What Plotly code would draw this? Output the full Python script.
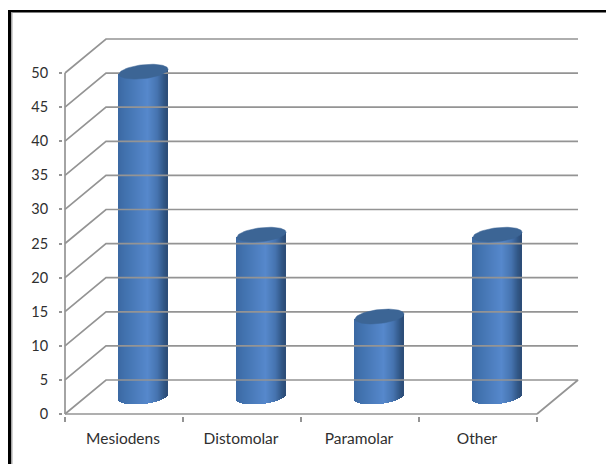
import numpy as np
import plotly.graph_objects as go

categories = ["Mesiodens", "Distomolar", "Paramolar", "Other"]
values = [47.7, 23.8, 11.8, 23.8]
y_ticks = list(range(0, 55, 5))

GRID = "#949494"
TEXT = "#2f2f2f"
W, H = 606, 464
L, R, T, B = 65, 537, 73, 414  # pixel box of the front axes
px_x = (R - L) / 4
px_y = (B - T) / 50
depth_x = 41 / px_x
depth_y = 34 / px_y
half_w = 24.5 / px_x
ell_b = 7.0 / px_y
ell_s = 2.5 / px_y
N = 49
nudge = 1 / px_x

# axis ranges pad the plot box by a couple of pixels so edge lines are not clipped
pad_px = 2
x_min, x_max = -pad_px / px_x, 4 + depth_x + pad_px / px_x
y_min, y_max = -pad_px / px_y, 50 + depth_y + pad_px / px_y
box_l = L - pad_px
box_r = R + 41 + pad_px
box_b = B + pad_px
box_t = T - 34 - pad_px

stops = [(0.0, (58, 104, 162)), (0.12, (64, 112, 172)), (0.6, (86, 136, 204)),
         (0.8, (70, 116, 176)), (0.93, (50, 88, 136)), (1.0, (44, 76, 118))]


def shade(t):
    pos = [s[0] for s in stops]
    rgb = [np.interp(t, pos, [s[1][i] for s in stops]) for i in range(3)]
    return "rgb(%d,%d,%d)" % tuple(int(round(c)) for c in rgb)


def add_line(fig, xs, ys):
    fig.add_trace(go.Scatter(x=xs, y=ys, mode="lines", hoverinfo="skip",
                             line=dict(color=GRID, width=1.7), showlegend=False))


fig = go.Figure()

# floor, back wall grid and the two front axis lines
for v in y_ticks:
    if v == 0:
        add_line(fig, [0, depth_x, 4 + depth_x, 4], [0, depth_y, depth_y, 0])
    else:
        add_line(fig, [0, depth_x, 4 + depth_x], [v, v + depth_y, v + depth_y])
add_line(fig, [0, 4], [0, 0])
add_line(fig, [0, 0], [0, 50])

# cylinders
u = (np.arange(N) + 0.5) / N * 2 - 1
step = 2 * half_w / N
for i, val in enumerate(values):
    cx = i + 0.5 + depth_x / 2 - nudge
    low = depth_y / 2 - ell_b * np.sqrt(1 - u ** 2) + ell_s * u
    top = depth_y / 2 + val + ell_s * u
    fig.add_trace(go.Bar(x=cx + u * half_w, y=top - low, base=low, width=step * 1.25,
                         marker=dict(color=[shade((a + 1) / 2) for a in u], line=dict(width=0)),
                         hoverinfo="skip", showlegend=False))
    t = np.linspace(0, 2 * np.pi, 80)
    fig.add_trace(go.Scatter(x=cx + half_w * np.cos(t),
                             y=depth_y / 2 + val + ell_b * np.sin(t) + ell_s * np.cos(t),
                             mode="lines", fill="toself", fillcolor="#3c6595",
                             line=dict(color="#3c6595", width=0.5),
                             hoverinfo="skip", showlegend=False))


def fx(p):
    return (p - box_l) / (box_r - box_l)


def fy(p):
    return (box_b - p) / (box_b - box_t)


# page frame (top and left edges only)
fig.add_shape(type="rect", xref="paper", yref="paper", x0=fx(8), x1=fx(11), y0=fy(H), y1=fy(10),
              fillcolor="black", line_width=0, layer="above")
fig.add_shape(type="rect", xref="paper", yref="paper", x0=fx(8), x1=fx(W), y0=fy(12.5), y1=fy(10),
              fillcolor="black", line_width=0, layer="above")
fig.add_shape(type="rect", xref="paper", yref="paper", x0=fx(11), x1=fx(12.5), y0=fy(H), y1=fy(12.5),
              fillcolor="#a8a8a8", line_width=0, layer="above")

fig.update_layout(
    width=W, height=H, margin=dict(l=box_l, r=W - box_r, t=box_t, b=H - box_b),
    paper_bgcolor="white", plot_bgcolor="white", barmode="overlay", bargap=0,
    showlegend=False,
    xaxis=dict(range=[x_min, x_max], tickmode="array", tickvals=[i + 0.5 - nudge for i in range(4)],
               ticktext=categories, ticks="", showgrid=False, zeroline=False, showline=False,
               tickfont=dict(family="Lato", size=15.5, color=TEXT), ticklabelstandoff=11,
               minor=dict(ticks="outside", dtick=1, tick0=0, ticklen=5, tickcolor=GRID,
                          tickwidth=1.5, showgrid=False)),
    yaxis=dict(range=[y_min, y_max], tickmode="array", tickvals=y_ticks, ticks="outside", ticklen=3,
               tickcolor=GRID, tickwidth=1.5, showgrid=False, zeroline=False, showline=False,
               tickfont=dict(family="Lato", size=14.5, color=TEXT), ticklabelstandoff=8),
)

fig.write_html("out.html", config={"displayModeBar": False},
               post_script="document.body.style.margin='0';document.body.style.overflow='hidden';")
